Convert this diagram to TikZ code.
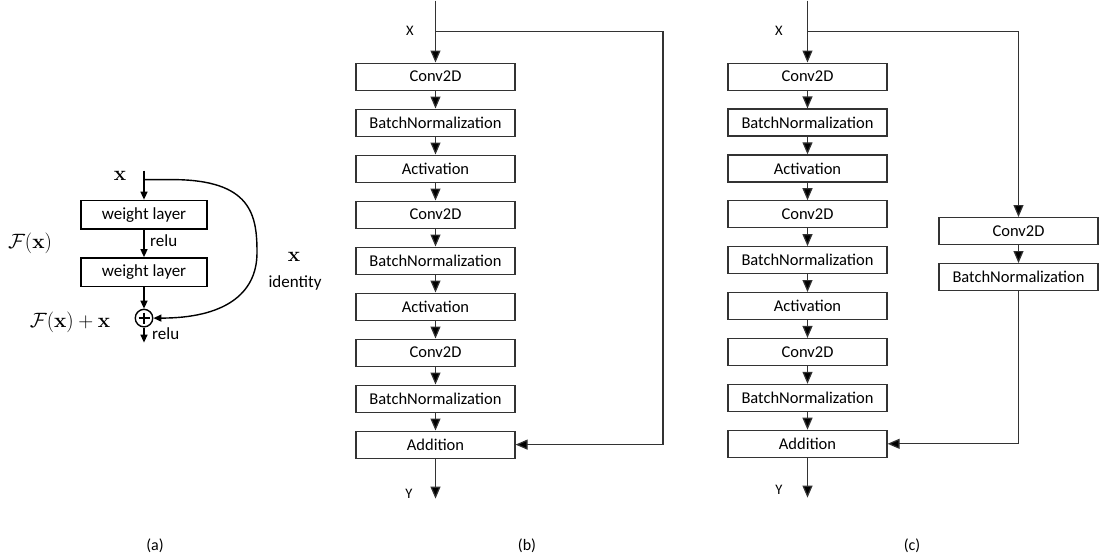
\documentclass[tikz,border=0pt]{standalone}
\usepackage[no-math]{fontspec}
\setmainfont{Carlito}
\usetikzlibrary{arrows.meta}
\begin{document}
\begin{tikzpicture}[x=1pt,y=-1pt,
  blk/.style={draw=black!80, line width=1.2pt, minimum width=159pt, minimum height=27pt, inner sep=0pt, font=\fontsize{16.5}{19}\selectfont},
  wl/.style={draw=black, line width=1.4pt, minimum width=126pt, minimum height=28.5pt, inner sep=0pt, font=\fontsize{17}{20}\selectfont},
  con/.style={draw=black!80, line width=1.2pt, -{Triangle[length=12pt,width=10pt,fill=black]}},
  acon/.style={draw=black, line width=1.4pt, -{Triangle[length=8pt,width=7pt]}},
  aln/.style={draw=black, line width=1.4pt},
  lbl/.style={font=\fontsize{14.5}{16}\selectfont, inner sep=0pt},
  atxt/.style={font=\fontsize{17}{20}\selectfont, inner sep=0pt},
  mth/.style={font=\fontsize{20}{24}\selectfont, inner sep=0pt},
  captxt/.style={font=\fontsize{16}{19}\selectfont, inner sep=0pt}
]
\path (0,0) rectangle (1103,559);

% ---------- panel (a) ----------
\coordinate (at) at (144,170);
\coordinate (as) at (144,179);
\node[wl] (w1) at (144,214) {weight layer};
\node[wl] (w2) at (144,271.5) {weight layer};
\node[draw=black, line width=1.4pt, circle, minimum size=17.5pt, inner sep=0pt] (plus) at (144,317.5) {};
\draw[aln] (plus.center) ++(0,-5.5) -- ++(0,11) (plus.center) ++(-5.5,0) -- ++(11,0);
\coordinate (aend) at (144,342);
\draw[acon] (at) -- (w1.north);
\draw[acon] (w1.south) -- (w2.north);
\draw[acon] (w2.south) -- (plus.north);
\draw[acon] (plus.south) -- (aend);
\draw[acon] (as) -- (172,179) .. controls (252,179) and (257,215) .. (257,252)
  .. controls (257,295) and (222,317.5) .. (plus.east);
\node[mth] (ax) at (120,175) {$\mathbf{x}$};
\node[mth] (fx) at (30,243) {$\mathcal{F}(\mathbf{x})$};
\node[mth] (fxx) at (70,322) {$\mathcal{F}(\mathbf{x})+\mathbf{x}$};
\node[atxt, anchor=west] (r1) at (150,240) {relu};
\node[atxt, anchor=west] (r2) at (152,333) {relu};
\node[mth] (ix) at (294,256) {$\mathbf{x}$};
\node[atxt] (id) at (295,282) {identity};
\node[captxt] (capa) at (155,545) {(a)};

% ---------- panel (b) ----------
\foreach \i/\t in {1/Conv2D,2/BatchNormalization,3/Activation,4/Conv2D,5/BatchNormalization,6/Activation,7/Conv2D,8/BatchNormalization,9/Addition}{
  \node[blk] (b\i) at (435.5,{76+46*(\i-1)}) {\t};
}
\foreach \i [evaluate=\i as \j using int(\i+1)] in {1,...,8}{
  \draw[con] (b\i) -- (b\j);
}
\coordinate (bt) at (435.5,0);
\coordinate (bs) at (435.5,31);
\coordinate (bc) at (663,31);
\coordinate (by) at (435.5,498);
\draw[con] (bt) -- (b1.north);
\draw[con] (bs) -- (bc) |- (b9.east);
\draw[con] (b9) -- (by);
\node[lbl] (bx) at (410,30) {X};
\node[lbl] (byl) at (409,493) {Y};
\node[captxt] (capb) at (527,545) {(b)};

% ---------- panel (c) ----------
\foreach \i/\t in {1/Conv2D,2/BatchNormalization,3/Activation,4/Conv2D,5/BatchNormalization,6/Activation,7/Conv2D,8/BatchNormalization,9/Addition}{
  \node[blk] (c\i) at (807.5,{76+45.9*(\i-1)}) {\t};
}
\foreach \i [evaluate=\i as \j using int(\i+1)] in {1,...,8}{
  \draw[con] (c\i) -- (c\j);
}
\node[blk] (s1) at (1018.5,230.5) {Conv2D};
\node[blk] (s2) at (1018.5,276.5) {BatchNormalization};
\coordinate (ct) at (807.5,0);
\coordinate (cs) at (807.5,31);
\coordinate (cc) at (1018.5,31);
\coordinate (cy) at (807.5,497);
\draw[con] (ct) -- (c1.north);
\draw[con] (cs) -- (cc) -- (s1.north);
\draw[con] (s1) -- (s2);
\draw[con] (s2.south) |- (c9.east);
\draw[con] (c9) -- (cy);
\node[lbl] (cx) at (779,30) {X};
\node[lbl] (cyl) at (779,489) {Y};
\node[captxt] (capc) at (912,545) {(c)};
\end{tikzpicture}
\end{document}
